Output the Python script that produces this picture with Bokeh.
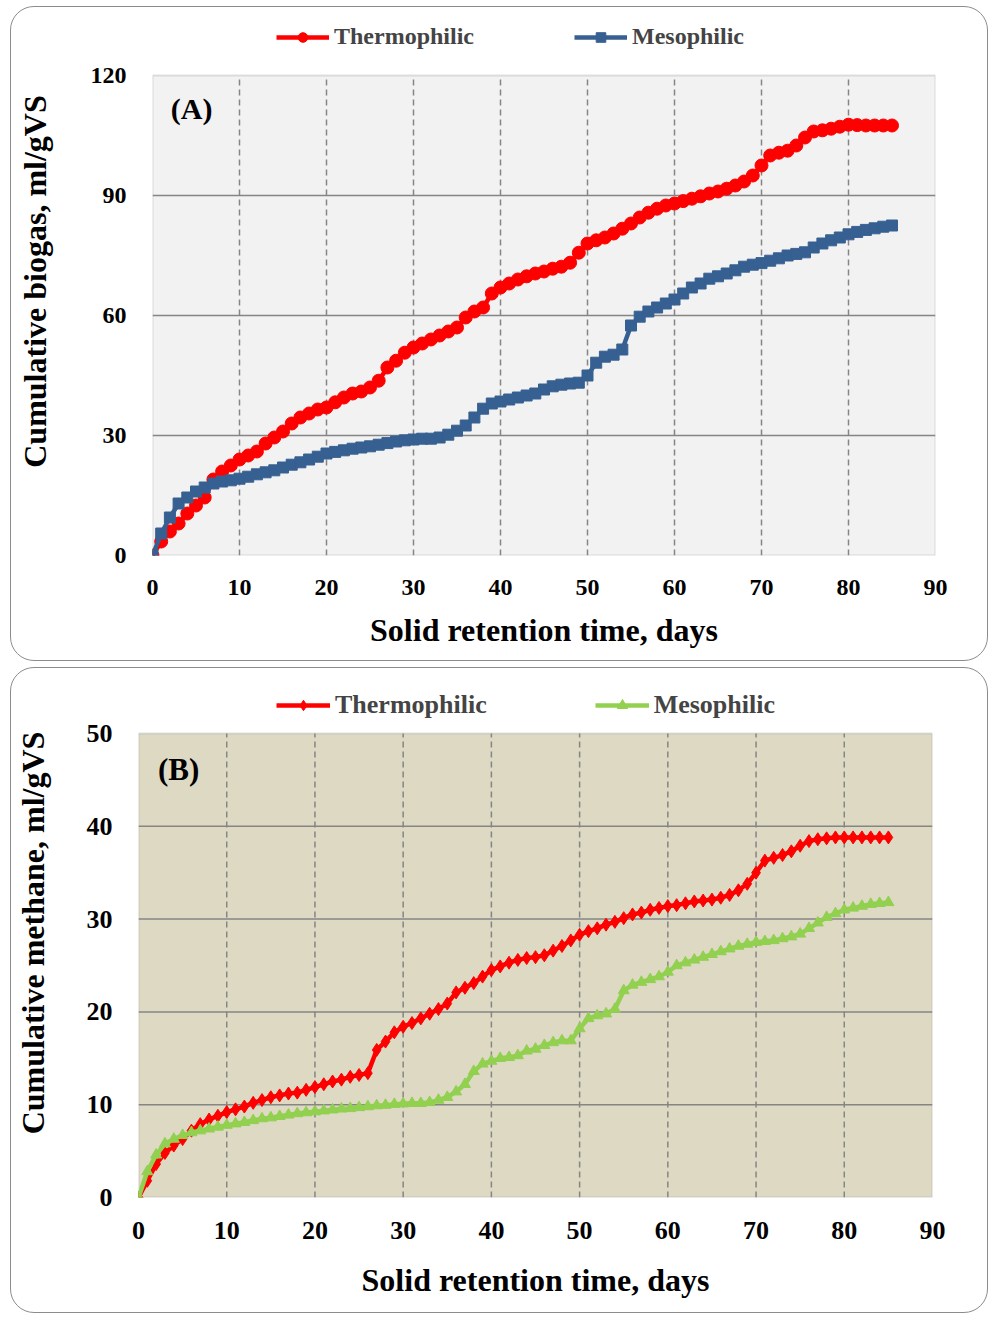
from bokeh.plotting import figure
from bokeh.models import Range1d, Legend, LegendItem, Label, FixedTicker, BoxAnnotation
from bokeh.layouts import column
from bokeh.embed import file_html
from bokeh.resources import INLINE

days = list(range(0, 86))

thermo_biogas = [0, 3.5, 6, 8, 10.5, 12.5, 14.5, 19, 21, 22.5, 24, 25, 26, 28, 29.5, 31, 33, 34.5, 35.5, 36.5,
                 37, 38.3, 39.5, 40.5, 41, 42, 43.7, 47, 48.7, 50.7, 52, 53, 54, 55, 56, 57, 59.5, 61, 62, 65.5,
                 67, 68, 69, 69.8, 70.5, 71, 71.7, 72.2, 73.2, 75.7, 78, 78.8, 79.5, 80.5, 81.7, 83, 84.5, 85.7, 86.7, 87.5,
                 88, 88.6, 89.2, 89.8, 90.5, 91, 91.7, 92.5, 93.5, 95, 97.5, 100, 100.7, 101.2, 102.5, 104.5, 106, 106.3, 106.7, 107.2,
                 107.7, 107.6, 107.5, 107.5, 107.5, 107.5]
meso_biogas = [0, 5.5, 9.5, 13, 14.5, 16, 17, 18, 18.5, 18.8, 19.2, 19.7, 20.3, 20.8, 21.3, 22, 22.7, 23.3, 24, 24.7,
               25.5, 25.9, 26.3, 26.7, 27, 27.3, 27.7, 28.1, 28.5, 28.8, 29, 29.2, 29.2, 29.5, 30.2, 31.2, 32.5, 34.5, 36.7, 38,
               38.5, 39, 39.5, 40, 40.5, 41.5, 42.3, 42.7, 43, 43.2, 45, 48.2, 49.7, 50.2, 51.5, 57.5, 59.7, 61, 62, 63,
               64, 65.5, 67, 68, 69.2, 69.8, 70.5, 71.3, 72.2, 72.7, 73.1, 73.7, 74.3, 75, 75.4, 75.8, 77, 78, 78.8, 79.5,
               80.3, 80.9, 81.4, 81.8, 82.2, 82.5]
thermo_methane = [0, 1.8, 3.6, 4.8, 5.6, 6.3, 7.2, 7.9, 8.4, 8.8, 9.2, 9.5, 9.8, 10.2, 10.5, 10.8, 11, 11.2, 11.3, 11.6,
                  11.9, 12.2, 12.5, 12.7, 13, 13.2, 13.4, 15.9, 16.8, 17.8, 18.4, 18.8, 19.3, 19.8, 20.3, 20.9, 22.1, 22.6, 23.1, 23.8,
                  24.5, 24.9, 25.3, 25.6, 25.8, 25.9, 26.1, 26.6, 27.1, 27.7, 28.3, 28.7, 29, 29.4, 29.7, 30.1, 30.5, 30.7, 31, 31.2,
                  31.4, 31.5, 31.7, 31.9, 32, 32.1, 32.3, 32.6, 33.1, 33.8, 35, 36.3, 36.6, 36.9, 37.3, 37.9, 38.4, 38.6, 38.7, 38.8,
                  38.8, 38.8, 38.8, 38.8, 38.8, 38.8]
meso_methane = [0, 2.8, 4.6, 5.8, 6.3, 6.7, 7, 7.2, 7.4, 7.6, 7.8, 7.95, 8.1, 8.3, 8.5, 8.6, 8.75, 8.9, 9.05, 9.15,
                9.25, 9.35, 9.45, 9.55, 9.6, 9.7, 9.8, 9.9, 9.95, 10.05, 10.1, 10.15, 10.15, 10.25, 10.5, 10.8, 11.4, 12.2, 13.6, 14.4,
                14.7, 15, 15.1, 15.3, 15.8, 16, 16.4, 16.7, 16.9, 16.9, 18.2, 19.3, 19.6, 19.8, 20.3, 22.3, 22.9, 23.2, 23.5, 23.8,
                24.3, 25, 25.3, 25.6, 25.9, 26.2, 26.5, 26.8, 27.1, 27.3, 27.5, 27.6, 27.7, 27.9, 28.1, 28.4, 29, 29.6, 30.2, 30.6,
                31, 31.2, 31.4, 31.6, 31.7, 31.8]

x_ticks = [0, 10, 20, 30, 40, 50, 60, 70, 80, 90]
y_ticks_a = [0, 30, 60, 90, 120]
y_ticks_b = [0, 10, 20, 30, 40, 50]

FONT = "Liberation Serif"
RED = "#ff0000"
BLUE = "#376092"
GREEN = "#92d050"
GRID = "#858585"


def make_panel(width, height, borders, ytop, yview, yticks, ylabel, bg, tick_size, title_size,
               xlabel_standoff, ylabel_standoff):
    # the frame extends above the plotting area so that the legend fits inside it
    p = figure(width=width, height=height, output_backend="svg", toolbar_location=None,
               x_range=Range1d(0, 90), y_range=Range1d(0, yview),
               min_border_left=borders[0], min_border_right=borders[1],
               min_border_top=borders[2], min_border_bottom=borders[3])
    p.background_fill_color = None
    p.border_fill_color = None
    p.outline_line_color = None
    p.xgrid.visible = False
    p.ygrid.visible = False
    p.add_layout(BoxAnnotation(left=0, right=90, bottom=0, top=ytop, fill_color=bg, fill_alpha=1,
                               line_color="#999999", line_width=2, level="underlay"))
    inner_x = x_ticks[1:-1]
    inner_y = yticks[1:-1]
    p.segment(x0=inner_x, y0=[0] * len(inner_x), x1=inner_x, y1=[ytop] * len(inner_x),
              line_color=GRID, line_width=1.5, line_dash="6 4")
    p.segment(x0=[0] * len(inner_y), y0=inner_y, x1=[90] * len(inner_y), y1=inner_y,
              line_color=GRID, line_width=1.5)
    p.xaxis.ticker = FixedTicker(ticks=x_ticks)
    p.yaxis.ticker = FixedTicker(ticks=yticks)
    for ax in (p.xaxis[0], p.yaxis[0]):
        ax.axis_line_color = None
        ax.major_tick_line_color = None
        ax.minor_tick_line_color = None
        ax.major_label_text_font = FONT
        ax.major_label_text_font_style = "bold"
        ax.major_label_text_font_size = tick_size
        ax.major_label_text_color = "black"
        ax.axis_label_text_font = FONT
        ax.axis_label_text_font_style = "bold"
        ax.axis_label_text_font_size = title_size
        ax.axis_label_text_color = "black"
    p.xaxis.major_label_standoff = 18
    p.yaxis.major_label_standoff = 20
    p.xaxis.axis_label = "Solid retention time, days"
    p.yaxis.axis_label = ylabel
    p.xaxis.axis_label_standoff = xlabel_standoff
    p.yaxis.axis_label_standoff = ylabel_standoff
    return p


# Panel A
pa = make_panel(976, 653, (141, 52, 0, 105), 120, 137, y_ticks_a, "Cumulative biogas, ml/gVS",
                "#f2f2f2", "24px", "32px", 14, 35)
la1 = pa.line(days, thermo_biogas, line_color=RED, line_width=4.5)
sa1 = pa.scatter(days, thermo_biogas, marker="circle", size=13, fill_color=RED, line_color=RED)
la2 = pa.line(days, meso_biogas, line_color=BLUE, line_width=4.5)
sa2 = pa.scatter(days, meso_biogas, marker="square", size=11, fill_color=BLUE, line_color=BLUE)
pa.add_layout(Label(x=2.1, y=107.7, text="(A)", text_font=FONT, text_font_style="bold",
                    text_font_size="30px", text_color="black"))
leg_a = Legend(items=[LegendItem(label="Thermophilic", renderers=[la1, sa1]),
                      LegendItem(label="Mesophilic", renderers=[la2, sa2])],
               orientation="horizontal", location=(124, 505), glyph_width=53, glyph_height=24,
               label_height=24, label_standoff=5, spacing=100, padding=0, margin=0,
               label_text_font=FONT, label_text_font_style="bold", label_text_font_size="24px",
               border_line_color=None, background_fill_alpha=0)
pa.add_layout(leg_a)

# Panel B
pb = make_panel(976, 644, (127, 55, 0, 115), 50, 57.0, y_ticks_b, "Cumulative methane, ml/gVS",
                "#ddd9c3", "26px", "32px", 20, 33)
lb1 = pb.line(days, thermo_methane, line_color=RED, line_width=4.5)
sb1 = pb.scatter(days, thermo_methane, marker="diamond", size=13, fill_color=RED, line_color=RED)
lb2 = pb.line(days, meso_methane, line_color=GREEN, line_width=4.5)
sb2 = pb.scatter(days, meso_methane, marker="triangle", size=11, fill_color=GREEN, line_color=GREEN)
pb.add_layout(Label(x=2.2, y=44.2, text="(B)", text_font=FONT, text_font_style="bold",
                    text_font_size="31px", text_color="black"))
leg_b = Legend(items=[LegendItem(label="Thermophilic", renderers=[lb1, sb1]),
                      LegendItem(label="Mesophilic", renderers=[lb2, sb2])],
               orientation="horizontal", location=(138, 477), glyph_width=54, glyph_height=26,
               label_height=26, label_standoff=5, spacing=108, padding=0, margin=0,
               label_text_font=FONT, label_text_font_style="bold", label_text_font_size="26px",
               border_line_color=None, background_fill_alpha=0)
pb.add_layout(leg_b)

box_style = {"border": "1px solid #8c8c8c", "border-radius": "24px", "overflow": "hidden"}
wa = column(pa, styles=box_style)
wb = column(pb, styles=box_style)
layout = column(wa, wb, spacing=6, margin=(6, 0, 0, 10))

open("out.html", "w").write(file_html(layout, INLINE))
